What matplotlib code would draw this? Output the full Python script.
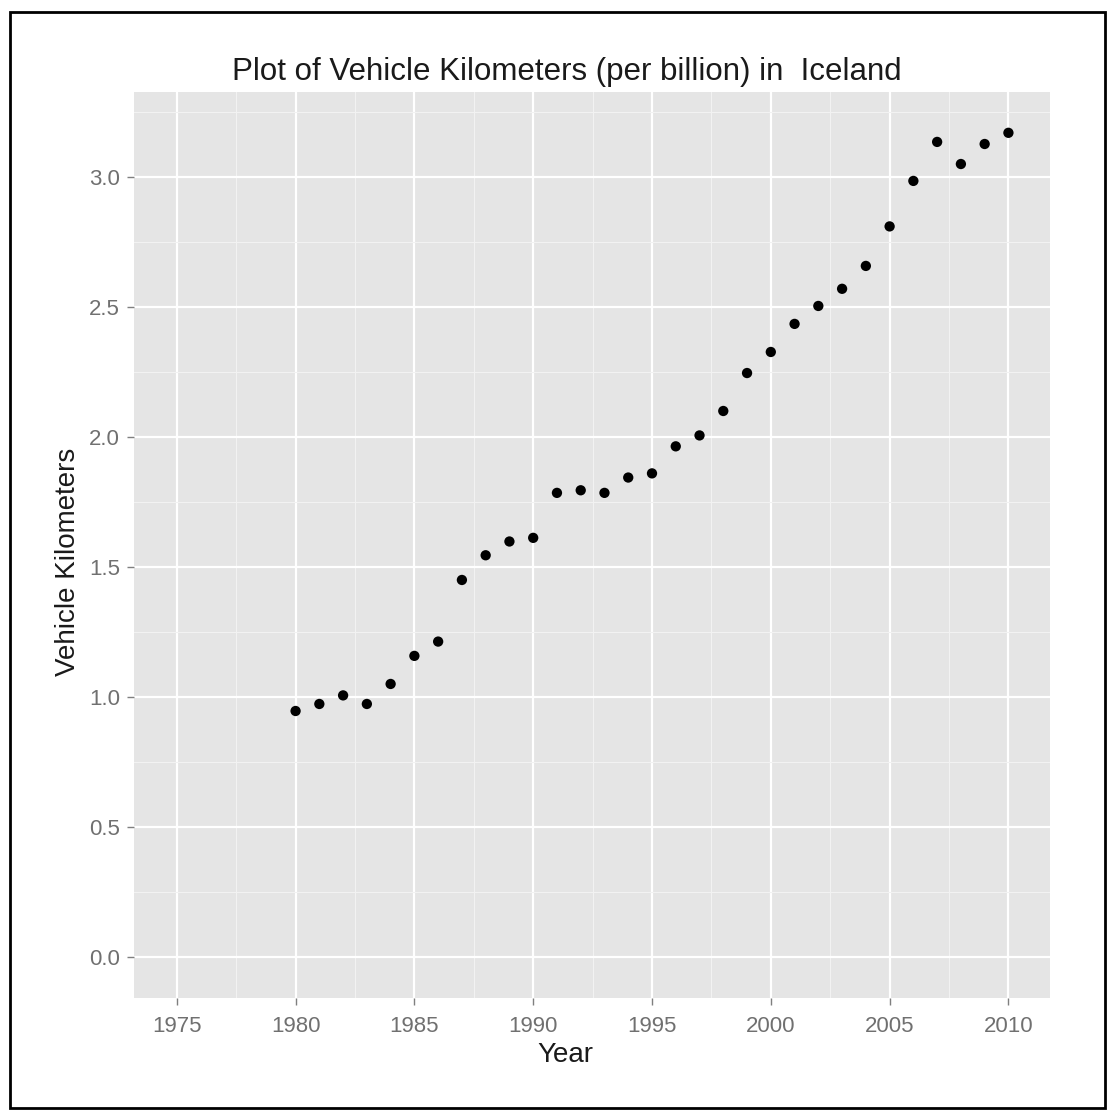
import matplotlib
matplotlib.use("Agg")
import matplotlib.pyplot as plt
from matplotlib.patches import Rectangle
from matplotlib.ticker import MultipleLocator

years = list(range(1980, 2011))
vkm = [0.946, 0.973, 1.006, 0.973, 1.05, 1.158, 1.213, 1.45, 1.545, 1.598,
       1.612, 1.785, 1.795, 1.785, 1.844, 1.86, 1.964, 2.006, 2.1, 2.246,
       2.327, 2.435, 2.504, 2.57, 2.658, 2.81, 2.985, 3.135, 3.05, 3.127, 3.17]
x_ticks = [1975, 1980, 1985, 1990, 1995, 2000, 2005, 2010]
y_ticks = [0.0, 0.5, 1.0, 1.5, 2.0, 2.5, 3.0]

plt.rcParams['font.family'] = ['Liberation Sans', 'DejaVu Sans']

W, H = 1108, 1110
fig = plt.figure(figsize=(W / 100, H / 100), dpi=100)
fig.patch.set_facecolor('white')

# plot area in pixel coords
L, R, T, B = 134, 1050, 92, 998
ax = fig.add_axes([L / W, 1 - B / H, (R - L) / W, (B - T) / H])
ax.set_facecolor('#E5E5E5')
for s in ax.spines.values():
    s.set_visible(False)

ax.set_xlim(1973.2, 2011.75)
ax.set_ylim(-0.158, 3.327)
ax.set_xticks(x_ticks)
ax.set_yticks(y_ticks)
ax.set_xticklabels([str(v) for v in x_ticks])
ax.set_yticklabels([f"{v:.1f}" for v in y_ticks])
ax.xaxis.set_minor_locator(MultipleLocator(2.5))
ax.yaxis.set_minor_locator(MultipleLocator(0.25))
ax.grid(which='major', color='white', linewidth=1.6)
ax.grid(which='minor', color='#F2F2F2', linewidth=0.8)
ax.set_axisbelow(True)
ax.tick_params(which='major', length=5, width=1, color='#7F7F7F',
               labelcolor='#707070', labelsize=16)
ax.tick_params(axis='x', pad=8)
ax.tick_params(axis='y', pad=5)
ax.tick_params(which='minor', length=0)

ax.scatter(years, vkm, s=55, color='black', zorder=3, edgecolors='none')

fig.text(567 / W, 1 - 72 / H, "Plot of Vehicle Kilometers (per billion) in  Iceland",
         ha='center', va='center', fontsize=22.5, color='#1a1a1a')
fig.text(565 / W, 1 - 1055 / H, "Year", ha='center', va='center', fontsize=20, color='#1a1a1a')
fig.text(68 / W, 1 - 562 / H, "Vehicle Kilometers", ha='center', va='center',
         fontsize=20, rotation=90, color='#1a1a1a')

# outer black border
fig.patches.append(Rectangle((10 / W, 1 - 1108 / H), (1105 - 10) / W, (1108 - 12) / H,
                             transform=fig.transFigure, fill=False,
                             edgecolor='black', linewidth=2))

fig.savefig("out.png", dpi=100)
